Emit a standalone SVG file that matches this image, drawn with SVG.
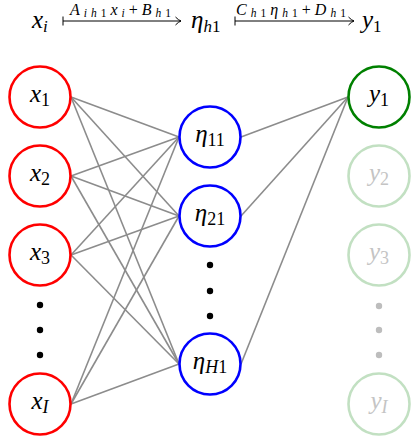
<svg xmlns="http://www.w3.org/2000/svg" width="415" height="437" viewBox="0 0 415 437">
<style>
.n{fill:#fff;stroke-width:2.6}
.in{stroke:#f00}.hid{stroke:#00f}.out{stroke:#008000}.fade{stroke:#c2e0c2}
.e{stroke:#8c8c8c;stroke-width:1.6;fill:none}
.dot{fill:#000}.dotg{fill:#bdbdbd}
</style>
<defs>
<marker id="ah" markerWidth="10" markerHeight="10" refX="8" refY="5" orient="auto" markerUnits="userSpaceOnUse">
<path d="M2.5 1 Q5.5 4.2 8 5 Q5.5 5.8 2.5 9" fill="none" stroke="#000" stroke-width="1"/>
</marker>
</defs>
<g id="header" font-family="Liberation Serif, DejaVu Serif, serif" fill="#000">
<text y="28" font-size="25"><tspan x="32" font-style="italic">x</tspan><tspan font-style="italic" font-size="17" dy="4">i</tspan></text>
<line x1="63" y1="21" x2="181" y2="21" stroke="#000" stroke-width="1" marker-end="url(#ah)"/>
<line x1="63" y1="16.5" x2="63" y2="25.5" stroke="#000" stroke-width="1"/>
<text x="70" y="14.5" font-size="16" textLength="101" lengthAdjust="spacing"><tspan font-style="italic">A</tspan><tspan font-style="italic" font-size="11.5" dy="2">ih</tspan><tspan font-size="11.5">1</tspan><tspan font-style="italic" dy="-2">x</tspan><tspan font-style="italic" font-size="11.5" dy="2">i</tspan><tspan dy="-2">+</tspan><tspan font-style="italic">B</tspan><tspan font-style="italic" font-size="11.5" dy="2">h</tspan><tspan font-size="11.5">1</tspan></text>
<text y="28" font-size="25"><tspan x="191" font-style="italic">η</tspan><tspan font-style="italic" font-size="17" dy="4">h</tspan><tspan font-size="17">1</tspan></text>
<line x1="235" y1="21" x2="354" y2="21" stroke="#000" stroke-width="1" marker-end="url(#ah)"/>
<line x1="235" y1="16.5" x2="235" y2="25.5" stroke="#000" stroke-width="1"/>
<text x="236" y="14.5" font-size="16" textLength="110" lengthAdjust="spacing"><tspan font-style="italic">C</tspan><tspan font-style="italic" font-size="11.5" dy="2">h</tspan><tspan font-size="11.5">1</tspan><tspan font-style="italic" dy="-2">η</tspan><tspan font-style="italic" font-size="11.5" dy="2">h</tspan><tspan font-size="11.5">1</tspan><tspan dy="-2">+</tspan><tspan font-style="italic">D</tspan><tspan font-style="italic" font-size="11.5" dy="2">h</tspan><tspan font-size="11.5">1</tspan></text>
<text y="28" font-size="25"><tspan x="362" font-style="italic">y</tspan><tspan font-size="17" dy="4">1</tspan></text>
</g>
<g id="connectors">
<line class="e" x1="71" y1="97" x2="179" y2="137"/>
<line class="e" x1="71" y1="97" x2="179" y2="216"/>
<line class="e" x1="71" y1="97" x2="179" y2="364"/>
<line class="e" x1="71" y1="176" x2="179" y2="137"/>
<line class="e" x1="71" y1="176" x2="179" y2="216"/>
<line class="e" x1="71" y1="176" x2="179" y2="364"/>
<line class="e" x1="71" y1="255" x2="179" y2="137"/>
<line class="e" x1="71" y1="255" x2="179" y2="216"/>
<line class="e" x1="71" y1="255" x2="179" y2="364"/>
<line class="e" x1="71" y1="404" x2="179" y2="137"/>
<line class="e" x1="71" y1="404" x2="179" y2="216"/>
<line class="e" x1="71" y1="404" x2="179" y2="364"/>
<line class="e" x1="241" y1="137" x2="348" y2="97"/>
<line class="e" x1="241" y1="216" x2="348" y2="97"/>
<line class="e" x1="241" y1="364" x2="348" y2="97"/>
</g>
<g id="nodes" font-family="Liberation Serif, DejaVu Serif, serif" font-size="25" text-anchor="middle">
<g id="x1"><circle class="n in" cx="40" cy="97" r="30.5"/><text x="40" y="102"><tspan font-style="italic">x</tspan><tspan font-size="18" dy="4">1</tspan></text></g>
<g id="x2"><circle class="n in" cx="40" cy="176" r="30.5"/><text x="40" y="181"><tspan font-style="italic">x</tspan><tspan font-size="18" dy="4">2</tspan></text></g>
<g id="x3"><circle class="n in" cx="40" cy="255" r="30.5"/><text x="40" y="260"><tspan font-style="italic">x</tspan><tspan font-size="18" dy="4">3</tspan></text></g>
<g id="xdots"><circle class="dot" cx="40" cy="305" r="3.2"/><circle class="dot" cx="40" cy="330" r="3.2"/><circle class="dot" cx="40" cy="355" r="3.2"/></g>
<g id="xI"><circle class="n in" cx="40" cy="404" r="30.5"/><text x="40" y="409"><tspan font-style="italic">x</tspan><tspan font-style="italic" font-size="18" dy="4">I</tspan></text></g>
<g id="h11"><circle class="n hid" cx="210" cy="137" r="30.5"/><text x="210" y="142"><tspan font-style="italic">η</tspan><tspan font-size="18" dy="4">11</tspan></text></g>
<g id="h21"><circle class="n hid" cx="210" cy="216" r="30.5"/><text x="210" y="221"><tspan font-style="italic">η</tspan><tspan font-size="18" dy="4">21</tspan></text></g>
<g id="hdots"><circle class="dot" cx="210" cy="265" r="3.2"/><circle class="dot" cx="210" cy="291" r="3.2"/><circle class="dot" cx="210" cy="316" r="3.2"/></g>
<g id="hH1"><circle class="n hid" cx="210" cy="364" r="30.5"/><text x="210" y="369"><tspan font-style="italic">η</tspan><tspan font-style="italic" font-size="18" dy="4">H</tspan><tspan font-size="18">1</tspan></text></g>
<g id="y1"><circle class="n out" cx="379" cy="97" r="30.5"/><text x="379" y="102"><tspan font-style="italic">y</tspan><tspan font-size="18" dy="4">1</tspan></text></g>
<g id="y2"><circle class="n fade" cx="379" cy="176" r="30.5"/><text x="379" y="181" fill="#c4c4c4"><tspan font-style="italic">y</tspan><tspan font-size="18" dy="4">2</tspan></text></g>
<g id="y3"><circle class="n fade" cx="379" cy="255" r="30.5"/><text x="379" y="260" fill="#c4c4c4"><tspan font-style="italic">y</tspan><tspan font-size="18" dy="4">3</tspan></text></g>
<g id="ydots"><circle class="dotg" cx="379" cy="306" r="3.2"/><circle class="dotg" cx="379" cy="330" r="3.2"/><circle class="dotg" cx="379" cy="355" r="3.2"/></g>
<g id="yI"><circle class="n fade" cx="379" cy="404" r="30.5"/><text x="379" y="409" fill="#c4c4c4"><tspan font-style="italic">y</tspan><tspan font-style="italic" font-size="18" dy="4">I</tspan></text></g>
</g>
</svg>
